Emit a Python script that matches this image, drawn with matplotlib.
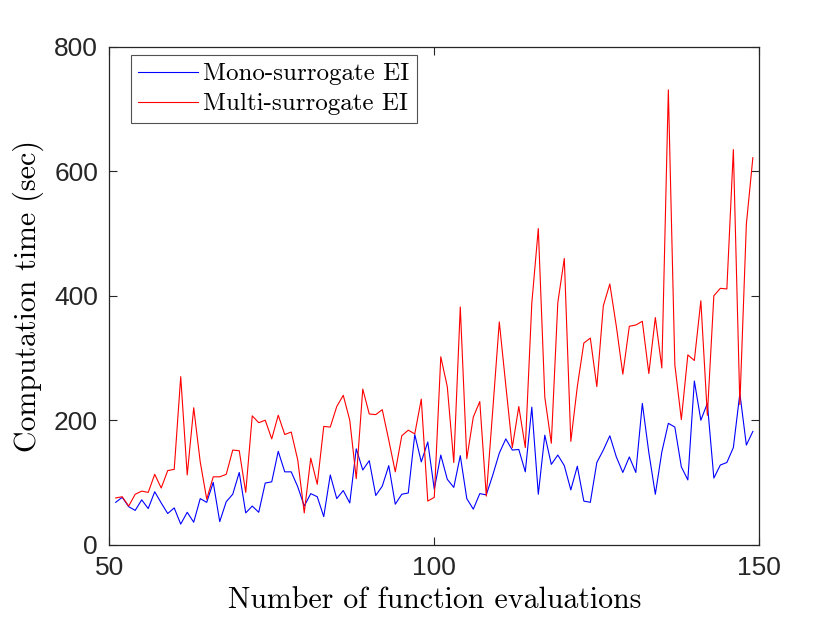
import matplotlib
matplotlib.use("Agg")
import matplotlib.pyplot as plt
import numpy as np

evals = list(range(51, 150))
mono = [68, 76, 61, 55, 72, 58, 85, 67, 50, 59,
        33, 52, 36, 74, 68, 100, 37, 69, 81, 116,
        51, 62, 52, 99, 101, 150, 117, 117, 93, 62,
        82, 77, 45, 112, 74, 87, 67, 154, 120, 135,
        79, 94, 127, 65, 81, 83, 177, 133, 165, 89,
        144, 105, 92, 143, 74, 57, 82, 80, 112, 147,
        170, 152, 153, 117, 221, 81, 176, 129, 144, 127,
        88, 126, 70, 68, 132, 152, 175, 141, 116, 141,
        116, 227, 148, 81, 149, 195, 189, 125, 104, 263,
        200, 227, 107, 128, 132, 156, 243, 160, 182]
multi = [75, 77, 62, 81, 86, 84, 113, 91, 119, 121,
         270, 112, 220, 133, 73, 109, 109, 113, 152, 151,
         84, 207, 196, 200, 170, 208, 177, 181, 136, 51,
         139, 97, 190, 189, 222, 240, 200, 106, 250, 210,
         209, 217, 168, 117, 175, 184, 178, 234, 70, 76,
         302, 254, 132, 382, 138, 205, 230, 78, 217, 358,
         256, 156, 222, 156, 388, 508, 237, 163, 389, 460,
         166, 254, 324, 332, 254, 384, 419, 351, 274, 351,
         353, 359, 275, 365, 284, 731, 289, 201, 305, 296,
         392, 208, 400, 412, 411, 635, 225, 515, 622]

series_labels = ["Mono-surrogate EI", "Multi-surrogate EI"]
xticks = [50, 100, 150]
yticks = [0, 200, 400, 600, 800]

fig = plt.figure(figsize=(8.4, 6.3), dpi=100)
ax = fig.add_axes([0.130, 0.1355, 0.774, 0.790])
ax.plot(evals, mono, color=(0, 0, 1), lw=0.8, label=series_labels[0])
ax.plot(evals, multi, color=(1, 0, 0), lw=0.8, label=series_labels[1])
ax.set_xlim(50, 150)
ax.set_ylim(0, 800)
ax.set_xticks(xticks)
ax.set_yticks(yticks)
ax.tick_params(direction='in', length=6, width=0.8, top=True, right=True,
               labelsize=19, colors='#262626', pad=8)
for lab in ax.get_xticklabels() + ax.get_yticklabels():
    lab.set_fontfamily('Liberation Sans')
for s in ax.spines.values():
    s.set_linewidth(0.9)
    s.set_color('#262626')
ax.set_xlabel('Number of function evaluations', fontfamily='cmr10', fontsize=21.5, labelpad=5)
ax.set_ylabel('Computation time (sec)', fontfamily='cmr10', fontsize=21.5, labelpad=7)
leg = ax.legend(loc='upper left', bbox_to_anchor=(0.033, 0.983), prop={'family': 'cmr10', 'size': 18},
                frameon=True, fancybox=False, edgecolor='#262626', handlelength=2.4,
                handletextpad=0.2, borderpad=0.3, labelspacing=0.3, borderaxespad=0.0)
leg.get_frame().set_linewidth(0.8)
fig.savefig('out.png', dpi=100)
